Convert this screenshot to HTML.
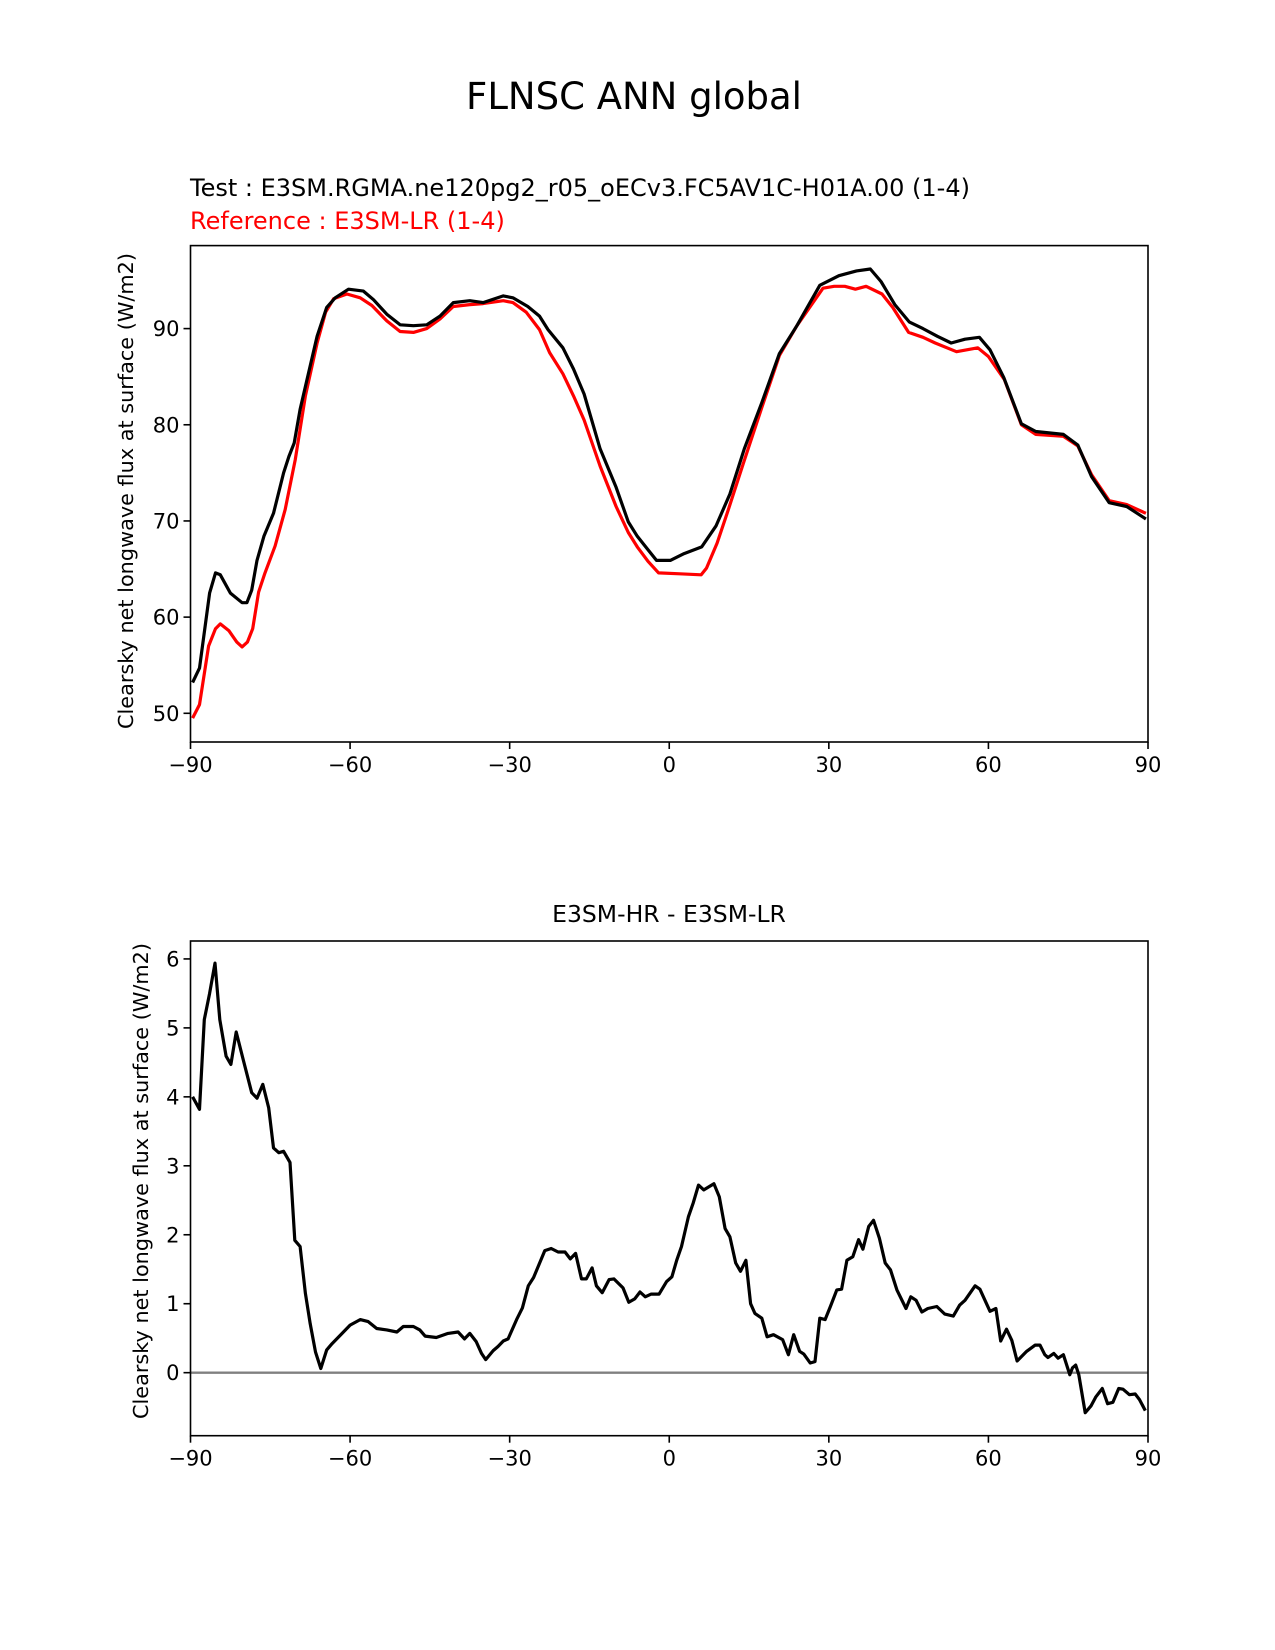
<!DOCTYPE html>
<html><head><meta charset="utf-8"><style>
html,body{margin:0;padding:0;background:#fff;}
svg{display:block;font-family:"Liberation Sans","DejaVu Sans",sans-serif;}
</style></head><body>
<svg id="fig" width="1275" height="1650" viewBox="0 0 1275 1650" xmlns="http://www.w3.org/2000/svg">
<rect width="1275" height="1650" fill="#fff"/>
<text x="634" y="109" font-size="37" text-anchor="middle" font-family="DejaVu Sans, sans-serif">FLNSC ANN global</text>
<text x="190" y="196" font-size="24" font-family="DejaVu Sans, sans-serif">Test : E3SM.RGMA.ne120pg2_r05_oECv3.FC5AV1C-H01A.00 (1-4)</text>
<text x="190" y="229" font-size="24" fill="#ff0000" font-family="DejaVu Sans, sans-serif">Reference : E3SM-LR (1-4)</text>
<text x="669" y="922" font-size="23.5" text-anchor="middle" font-family="DejaVu Sans, sans-serif">E3SM-HR - E3SM-LR</text>
<g id="top"></g>
<g id="bot"></g>
</svg>
<script>
const xTicks=[-90,-60,-30,0,30,60,90];
const topYTicks=[50,60,70,80,90];
const botYTicks=[0,1,2,3,4,5,6];
const testLat=[-89.6,-88.3,-86.4,-85.3,-84.4,-82.5,-80.3,-79.4,-78.5,-77.5,-76.2,-74.4,-72.5,-71.5,-70.5,-69.4,-68.1,-66.2,-64.4,-62.8,-60.3,-57.5,-55.6,-53.1,-50.6,-48.1,-45.6,-43.1,-40.6,-37.5,-35,-31.2,-29.4,-26.6,-24.4,-22.8,-20,-18,-16,-13,-10,-7.7,-6,-4,-2.4,0.2,2.8,6.1,8.8,11.4,14.1,17.4,20.7,24,28.3,31.9,35.2,37.8,39.8,42.4,45.1,47.7,50.4,53,55.6,58.3,60.3,62.9,66.2,68.9,74.1,76.8,79.4,82.7,86,89.6];
const testVal=[53.2,54.7,62.5,64.6,64.4,62.5,61.5,61.5,62.8,65.9,68.4,70.8,75,76.7,78.1,81.6,84.7,89.2,92.2,93.2,94.1,93.9,93,91.5,90.4,90.3,90.4,91.3,92.7,92.9,92.7,93.4,93.2,92.3,91.3,89.9,88,85.8,83.2,77.5,73.5,69.9,68.4,67,65.9,65.9,66.6,67.3,69.5,72.8,77.5,82.3,87.4,90.3,94.5,95.5,96,96.2,94.9,92.5,90.7,90,89.2,88.5,88.9,89.1,87.8,84.9,80.1,79.3,79,77.9,74.6,71.9,71.5,70.2];
const refLat=[-89.6,-88.3,-86.6,-85.3,-84.4,-82.8,-81.3,-80.3,-79.3,-78.3,-77.2,-76,-74.1,-72.2,-70.3,-68.4,-66.2,-64.6,-63.1,-60.6,-58.1,-55.9,-53.1,-50.6,-48.1,-45.6,-43.1,-40.6,-37.5,-35,-31.2,-29.4,-26.9,-24.4,-22.5,-20,-18,-16,-13,-10,-7.7,-6,-4,-2,2,6,7,9,11,14,17.4,20.7,24,28.9,31,33,35,37,40,42,45,47.7,50,54,58,60,63,66.2,68.9,74.1,76.8,79.4,82.7,86,89.6];
const refVal=[49.5,50.9,57,58.8,59.3,58.6,57.4,56.9,57.4,58.8,62.6,64.6,67.4,71.2,76.4,83,88.5,91.7,93.1,93.6,93.2,92.4,90.8,89.7,89.6,90,91,92.3,92.5,92.6,92.9,92.7,91.7,89.9,87.5,85.3,83,80.5,75.7,71.5,68.8,67.3,65.8,64.6,64.5,64.4,65.1,67.7,71,76.1,81.8,87.2,90.3,94.2,94.4,94.4,94.1,94.4,93.6,92.2,89.6,89.1,88.5,87.6,88,87.1,84.7,80,79,78.8,77.8,74.8,72.1,71.7,70.8];
const diffLat=[-89.6,-88.3,-87.4,-86.4,-85.4,-84.5,-83.3,-82.4,-81.4,-80.1,-78.5,-77.5,-76.4,-75.3,-74.4,-73.4,-72.5,-71.3,-70.4,-69.4,-68.4,-67.5,-66.5,-65.5,-64.4,-63.4,-61.5,-60,-58.1,-56.6,-55,-53.1,-51.2,-50,-48.1,-46.9,-45.9,-43.8,-41.6,-39.7,-38.5,-37.5,-36.3,-35.3,-34.5,-33.1,-32.2,-31.2,-30.3,-28.7,-27.6,-26.5,-25.5,-23.4,-22.2,-20.9,-19.6,-18.6,-17.6,-16.5,-15.6,-14.5,-13.7,-12.6,-11.3,-10.4,-8.7,-7.6,-6.5,-5.5,-4.5,-3.4,-1.9,-0.5,0.5,1.4,2.3,3.6,4.5,5.5,6.5,8.4,9.4,10.5,11.4,12.5,13.4,14.4,15.3,16.1,17.4,18.4,19.6,21.3,22.4,23.4,24.5,25.3,26.5,27.4,28.3,29.3,30.3,31.5,32.4,33.4,34.5,35.6,36.4,37.5,38.4,39.5,40.6,41.6,42.8,44.5,45.4,46.4,47.5,48.6,50.3,51.8,53.4,54.6,55.6,57.5,58.4,60.3,61.4,62.3,63.4,64.4,65.4,67.2,68.8,69.7,70.6,71.2,72.3,73.1,74.1,75.3,75.8,76.4,77,78.2,79.3,80.2,81.4,82.4,83.4,84.5,85.3,86.5,87.6,88.4,89.5];
const diffVal=[4.0,3.82,5.12,5.5,5.94,5.12,4.59,4.47,4.94,4.54,4.06,3.98,4.18,3.84,3.26,3.19,3.21,3.05,1.92,1.83,1.15,0.71,0.3,0.06,0.33,0.42,0.57,0.69,0.77,0.74,0.64,0.62,0.59,0.67,0.67,0.62,0.53,0.51,0.57,0.59,0.49,0.57,0.45,0.28,0.19,0.32,0.38,0.46,0.49,0.77,0.94,1.26,1.38,1.77,1.8,1.75,1.75,1.65,1.73,1.36,1.36,1.52,1.26,1.16,1.35,1.36,1.23,1.02,1.07,1.17,1.10,1.14,1.14,1.32,1.39,1.63,1.83,2.26,2.46,2.72,2.65,2.74,2.55,2.09,1.97,1.59,1.47,1.63,1.0,0.86,0.79,0.52,0.55,0.48,0.26,0.55,0.31,0.27,0.14,0.16,0.79,0.77,0.96,1.2,1.21,1.63,1.68,1.93,1.79,2.12,2.21,1.95,1.59,1.49,1.2,0.93,1.1,1.05,0.88,0.93,0.96,0.85,0.82,0.98,1.05,1.26,1.21,0.89,0.93,0.46,0.63,0.47,0.17,0.31,0.4,0.4,0.26,0.22,0.28,0.21,0.26,-0.03,0.07,0.11,-0.03,-0.58,-0.48,-0.35,-0.23,-0.45,-0.43,-0.23,-0.24,-0.32,-0.31,-0.39,-0.55];

const NS="http://www.w3.org/2000/svg";
function mk(parent,tag,attrs){const e=document.createElementNS(NS,tag);for(const k in attrs)e.setAttribute(k,attrs[k]);parent.appendChild(e);return e;}
const X0=190.5,X1=1148;
function xs(v){return X0+(v+90)/180*(X1-X0);}

function panel(g,top,bot,ymin,ymax,yTicks,ylabelY,ylabelX,prefix){
  const ys=v=>bot-(v-ymin)/(ymax-ymin)*(bot-top);
  const cp=mk(g,'clipPath',{id:prefix+'clip'});
  mk(cp,'rect',{x:X0,y:top,width:X1-X0,height:bot-top});
  xTicks.forEach(t=>{
    const l=mk(g,'line',{x1:xs(t),x2:xs(t),y1:bot,y2:bot+7,stroke:'#000','stroke-width':1.6});
    
    
    const tx=mk(g,'text',{x:xs(t),y:bot+30,'font-size':21,'text-anchor':'middle','font-family':'DejaVu Sans, sans-serif'});
    tx.textContent=(t<0?'\u2212'+(-t):String(t));
    
    
  });
  yTicks.forEach(t=>{
    const l=mk(g,'line',{x1:X0-7,x2:X0,y1:ys(t),y2:ys(t),stroke:'#000','stroke-width':1.6});
    
    
    const tx=mk(g,'text',{x:X0-11,y:ys(t)+7.5,'font-size':21,'text-anchor':'end','font-family':'DejaVu Sans, sans-serif'});
    tx.textContent=String(t);
    
    
  });
  const yl=mk(g,'text',{x:0,y:0,'font-size':20.8,'text-anchor':'middle','font-family':'DejaVu Sans, sans-serif',transform:`translate(${ylabelX},${ylabelY}) rotate(-90)`});
  yl.textContent='Clearsky net longwave flux at surface (W/m2)';
  
  
  return ys;
}
function line(g,lat,val,ys,color,name,prefix){
  const d=lat.map((v,i)=>(i?'L':'M')+xs(v).toFixed(1)+','+ys(val[i]).toFixed(1)).join('');
  const p=mk(g,'path',{d:d,fill:'none',stroke:color,'stroke-width':3.2,'stroke-linejoin':'round','clip-path':`url(#${prefix}clip)`});
  
  
}
const TB=742;
const gt=document.getElementById('top');
const ysT=panel(gt,245.6,TB,50-(TB-713.3)/9.615,98.63,topYTicks,491,133,'t');
line(gt,refLat,refVal,ysT,'#ff0000','reference-line','t');
line(gt,testLat,testVal,ysT,'#000','test-line','t');
const ft=mk(gt,'rect',{x:X0,y:245.6,width:X1-X0,height:TB-245.6,fill:'none',stroke:'#000','stroke-width':1.6});



const gb=document.getElementById('bot');
const ysB=panel(gb,941,1435.7,-0.914,6.26,botYTicks,1181,148,'b');
const zl=mk(gb,'line',{x1:X0,x2:X1,y1:ysB(0),y2:ysB(0),stroke:'#808080','stroke-width':2.4});


line(gb,diffLat,diffVal,ysB,'#000','difference-line','b');
const fb=mk(gb,'rect',{x:X0,y:941,width:X1-X0,height:1435.7-941,fill:'none',stroke:'#000','stroke-width':1.6});


</script>
</body></html>
